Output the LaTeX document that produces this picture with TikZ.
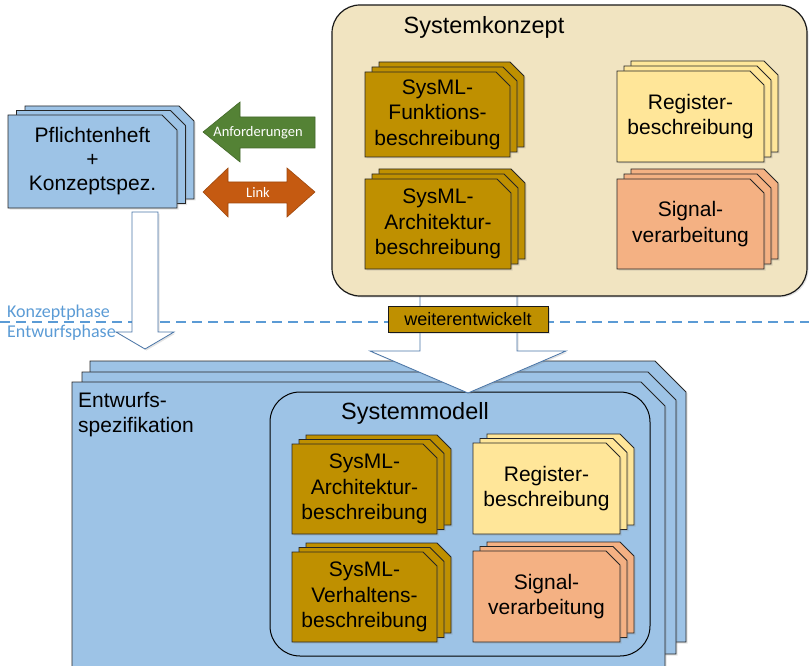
\documentclass[tikz,border=0pt]{standalone}
\usepackage{fontspec}
\setmainfont{Liberation Sans}
\newfontfamily\calibrifont{Carlito}
\usetikzlibrary{shadows}

\definecolor{gold}{HTML}{BF9000}
\definecolor{paleyellow}{HTML}{FFE699}
\definecolor{salmon}{HTML}{F4B183}
\definecolor{skyblue}{HTML}{9DC3E6}
\definecolor{beige}{HTML}{F1E4C1}
\definecolor{leafgreen}{HTML}{548235}
\definecolor{rust}{HTML}{C55A11}
\definecolor{phaseblue}{HTML}{5B9BD5}
\definecolor{arrowblue}{HTML}{4A76A8}

\tikzset{
  softshadow/.style={drop shadow={opacity=.22, shadow xshift=1.5pt, shadow yshift=-1.5pt}},
  layer/.style={draw=black!85, line width=0.9pt, softshadow},
  cardtext/.style={align=center, font=\fontsize{21}{25.5}\selectfont, inner sep=0pt},
  titletext/.style={font=\fontsize{23.5}{28}\selectfont, inner sep=0pt},
  hollowarrow/.style={fill=white, draw=arrowblue, line width=0.8pt, softshadow},
  phaselabel/.style={font=\calibrifont\fontsize{18}{20}\selectfont, text=phaseblue, anchor=base west, inner sep=0pt},
  arrowlabel/.style={font=\calibrifont\fontsize{14.5}{16}\selectfont, text=white, inner sep=0pt},
}

% three stacked sheets with a clipped top-right corner
% #1 x, #2 y (top left of the front sheet), #3 width, #4 height, #5 corner cut,
% #6 #7 offset of each sheet behind, #8 fill colour
\newcommand\sheetstack[8]{%
  \foreach \k in {2,1,0}{%
    \path[layer, fill=#8, shift={({\k*#6},{\k*#7})}]
      (#1,#2) -- ++({#3-#5},0) -- ++(#5,#5) -- ++(0,{#4-#5}) -- ++({-#3},0) -- cycle;
  }%
}

\begin{document}
\begin{tikzpicture}[x=1pt, y=-1pt, line join=miter]
\useasboundingbox (0,0) rectangle (809,666);

% phase boundary
\coordinate (phaseL) at (0,322);
\coordinate (phaseR) at (809,322);
\draw[phaseblue, line width=1.2pt, dash pattern=on 10pt off 6pt] (phaseL) -- (phaseR);
\node[phaselabel] (konzept) at (7,317) {Konzeptphase};
\node[phaselabel] (entwurf) at (7,337) {Entwurfsphase};

% requirements document
\sheetstack{8}{115}{169}{93}{15}{8.5}{-4.5}{skyblue}
\node[cardtext, font=\fontsize{21}{24}\selectfont] (pflicht) at (92.5,161.5) {Pflichtenheft\\+\\Konzeptspez.};

% hand-over arrow into the design phase
\path[hollowarrow] (132,212) -- (158,212) -- (158,332) -- (174,332) -- (145,349)
  -- (116,332) -- (132,332) -- cycle;

% requirements and link arrows
\path[fill=leafgreen, draw=leafgreen!80!black, line width=0.6pt]
  (203,132) -- (240,102) -- (240,117) -- (315,117) -- (315,148) -- (240,148) -- (240,162) -- cycle;
\node[arrowlabel] (anf) at (258,133) {Anforderungen};
\path[fill=rust, draw=rust!80!black, line width=0.6pt]
  (203,192) -- (228,168) -- (228,182) -- (287,182) -- (287,168) -- (315,192)
  -- (287,217) -- (287,203) -- (228,203) -- (228,217) -- cycle;
\node[arrowlabel] (link) at (258,192) {Link};

% design specification: three stacked sheets
\path[layer, fill=skyblue] (90,361) -- (655,361) -- (686,392) -- (686,642) -- (90,642) -- cycle;
\path[layer, fill=skyblue] (82,372) -- (648,372) -- (676,400) -- (676,654) -- (82,654) -- cycle;
\path[layer, fill=skyblue] (72,382) -- (641,382) -- (665,406) -- (665,680) -- (72,680) -- cycle;
\node[anchor=north west, align=left, inner sep=0pt, font=\fontsize{21}{25}\selectfont] (spez) at (78,392)
  {Entwurfs-\\spezifikation};

% system model
\draw[line width=1pt, rounded corners=30pt] (270,392) rectangle (650,656);
\node[titletext] (modell) at (415,413) {Systemmodell};
\sheetstack{292}{444}{145}{90}{14}{7}{-4.5}{gold}
\node[cardtext] (arch2) at (364.5,489) {SysML-\\Architektur-\\beschreibung};
\sheetstack{473}{443}{147}{91}{14}{7}{-4.5}{paleyellow}
\node[cardtext] (reg2) at (546.5,488.5) {Register-\\beschreibung};
\sheetstack{292}{552}{145}{90}{14}{7}{-4.5}{gold}
\node[cardtext] (verh) at (364.5,597) {SysML-\\Verhaltens-\\beschreibung};
\sheetstack{473}{551}{147}{91}{14}{7}{-4.5}{salmon}
\node[cardtext] (sig2) at (546.5,596.5) {Signal-\\verarbeitung};

% refinement arrow from concept to model
\path[hollowarrow] (420,285) -- (517,285) -- (517,351) -- (566,351) -- (468,393)
  -- (370,351) -- (420,351) -- cycle;

% system concept
\path[draw=black!90, line width=1.2pt, fill=beige, rounded corners=28pt, softshadow] (332,5) rectangle (807,296);
\node[titletext] (konzeptbox) at (484,27) {Systemkonzept};
\sheetstack{365}{72}{145}{85}{14}{7}{-5}{gold}
\node[cardtext] (funk) at (437.5,114.5) {SysML-\\Funktions-\\beschreibung};
\sheetstack{365}{179}{146}{90}{14}{7}{-5}{gold}
\node[cardtext] (arch1) at (438,224) {SysML-\\Architektur-\\beschreibung};
\sheetstack{617}{71}{147}{91}{14}{7}{-5}{paleyellow}
\node[cardtext] (reg1) at (690.5,116.5) {Register-\\beschreibung};
\sheetstack{617}{179}{147}{90}{14}{7}{-5}{salmon}
\node[cardtext] (sig1) at (690.5,224) {Signal-\\verarbeitung};

% label on the refinement arrow
\node[draw=black!90, line width=1pt, fill=gold, minimum width=160pt, minimum height=26pt,
  inner sep=0pt, font=\fontsize{18}{20}\selectfont, softshadow] (weiter) at (468,319) {weiterentwickelt};
\end{tikzpicture}
\end{document}
